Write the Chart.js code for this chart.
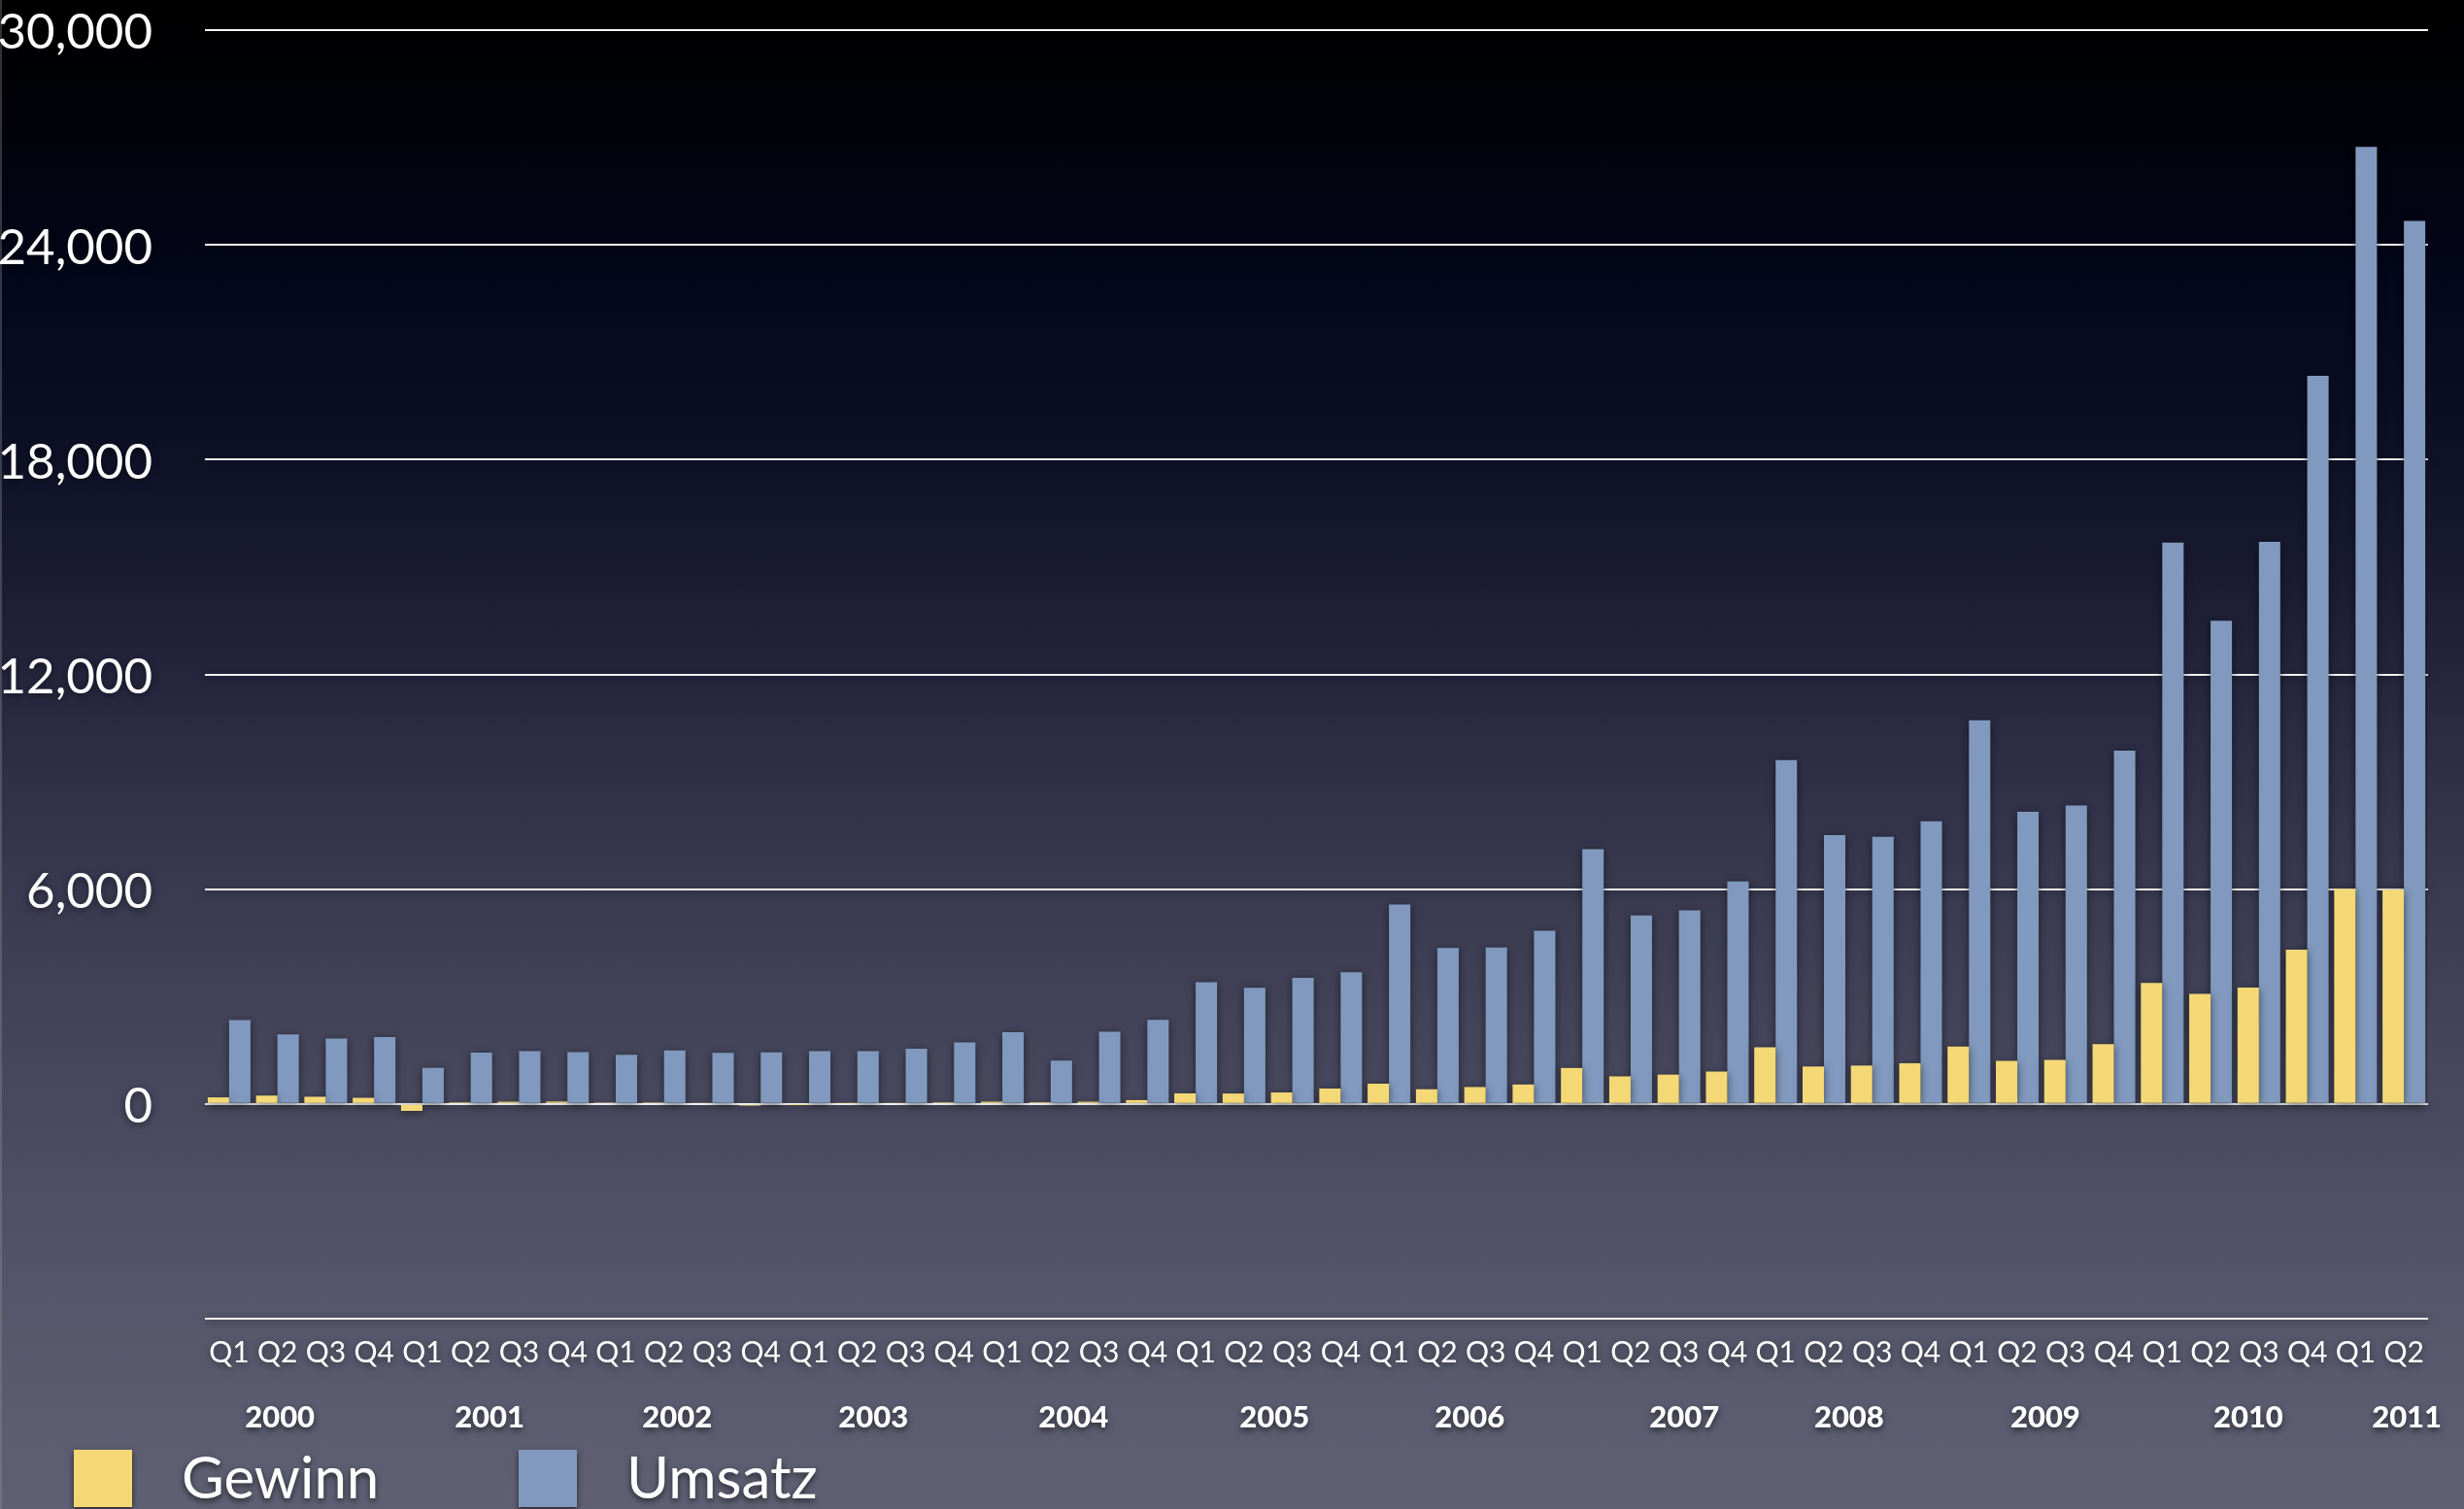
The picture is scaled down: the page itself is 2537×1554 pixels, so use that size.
<!DOCTYPE html>
<html>
<head>
<meta charset="utf-8">
<script src="https://cdn.jsdelivr.net/npm/chart.js@4/dist/chart.umd.min.js"></script>
<style>
  html, body { margin: 0; padding: 0; width: 2537px; height: 1554px; overflow: hidden; }
  body {
    position: relative;
    background: linear-gradient(to bottom,
      #000000 0%, #010208 8%, #04061a 18%, #0c0e24 28%, #1a1b32 38%,
      #2a2b43 48%, #383950 58%, #43445a 68%, #4d4e63 78%, #57586c 88%, #5f6073 100%);
  }
  #edge { position: absolute; left: 0; top: 0; width: 2px; height: 1554px; background: rgba(150,150,150,0.35); }
  canvas { position: absolute; left: 0; top: 0; }
</style>
</head>
<body>
<div id="edge"></div>
<canvas id="c" width="2537" height="1554"></canvas>
<script>
// ---- data (millions) ----
const quarters = [
  'Q1','Q2','Q3','Q4', 'Q1','Q2','Q3','Q4', 'Q1','Q2','Q3','Q4',
  'Q1','Q2','Q3','Q4', 'Q1','Q2','Q3','Q4', 'Q1','Q2','Q3','Q4',
  'Q1','Q2','Q3','Q4', 'Q1','Q2','Q3','Q4', 'Q1','Q2','Q3','Q4',
  'Q1','Q2','Q3','Q4', 'Q1','Q2','Q3','Q4', 'Q1','Q2'
];
const years = ['2000','2001','2002','2003','2004','2005','2006','2007','2008','2009','2010','2011'];
const gewinn = [
  183, 233, 200, 170,
  -195, 43, 61, 66,
  38, 40, 32, -45,
  -8, 14, 19, 44,
  63, 46, 61, 106,
  295, 290, 320, 430,
  565, 410, 472, 542,
  1004, 770, 818, 904,
  1581, 1045, 1072, 1136,
  1605, 1205, 1230, 1670,
  3378, 3074, 3253, 4308,
  6004, 5987
];
const umsatz = [
  2343, 1945, 1825, 1870,
  1007, 1431, 1475, 1450,
  1375, 1495, 1429, 1443,
  1472, 1475, 1545, 1715,
  2006, 1209, 2014, 2350,
  3400, 3243, 3520, 3678,
  5570, 4359, 4370, 4837,
  7115, 5264, 5410, 6217,
  9608, 7512, 7464, 7895,
  10720, 8163, 8337, 9870,
  15683, 13499, 15700, 20343,
  26741, 24667
];
const seriesNames = ['Gewinn', 'Umsatz'];
const yTicks = { min: -6000, max: 30000, step: 6000 };

// ---- layout / style (not data) ----
const FONT = 'Lato, "Open Sans", sans-serif';
const yearAnchor = [1.05, 5.39, 9.27, 13.33, 17.47, 21.63, 25.67, 30.11, 33.52, 37.58, 41.78, 45.06];
const legendX = [76, 534];

const shadowPlugin = {
  id: 'shadow',
  beforeDraw(chart) {
    const ctx = chart.ctx;
    ctx.shadowColor = 'rgba(0,0,0,0.55)';
    ctx.shadowBlur = 8;
    ctx.shadowOffsetX = 0;
    ctx.shadowOffsetY = 2;
  },
  afterDraw(chart) {
    const ctx = chart.ctx;
    const xs = chart.scales.x;
    const area = chart.chartArea;
    ctx.save();
    ctx.shadowColor = 'rgba(0,0,0,0.6)';
    ctx.shadowBlur = 6;
    ctx.shadowOffsetY = 3;
    // year labels
    ctx.fillStyle = '#ffffff';
    ctx.font = '900 31px ' + FONT;
    ctx.textAlign = 'center';
    ctx.textBaseline = 'alphabetic';
    years.forEach((y, i) => {
      ctx.fillText(y, xs.getPixelForValue(yearAnchor[i]), area.bottom + 112);
    });
    // legend
    ctx.textAlign = 'left';
    ctx.font = '60px ' + FONT;
    chart.data.datasets.forEach((ds, i) => {
      ctx.fillStyle = ds.backgroundColor;
      ctx.fillRect(legendX[i], area.bottom + 135, 60, 59);
      ctx.fillStyle = '#ffffff';
      ctx.fillText(ds.label, legendX[i] + 111, area.bottom + 185);
    });
    ctx.restore();
  }
};

new Chart(document.getElementById('c'), {
  type: 'bar',
  data: {
    labels: quarters,
    datasets: [
      { label: seriesNames[0], data: gewinn, backgroundColor: '#f4d875', borderWidth: 0,
        barPercentage: 1.0, categoryPercentage: 0.885 },
      { label: seriesNames[1], data: umsatz, backgroundColor: '#8199be', borderWidth: 0,
        barPercentage: 1.0, categoryPercentage: 0.885 }
    ]
  },
  options: {
    responsive: false,
    animation: false,
    devicePixelRatio: 1,
    layout: { padding: { top: 31, right: 37, left: 0, bottom: 0 } },
    plugins: { legend: { display: false }, tooltip: { enabled: false } },
    scales: {
      x: {
        grid: { display: false, drawTicks: false },
        border: { display: false },
        ticks: {
          color: '#ffffff', autoSkip: false, maxRotation: 0, minRotation: 0, padding: 20,
          font: { family: FONT, size: 30, lineHeight: 1.0 }
        },
        afterFit(s) { s.height = 196; }
      },
      y: {
        min: yTicks.min, max: yTicks.max,
        grid: { color: '#f4f4f4', lineWidth: 2, drawTicks: false },
        border: { display: false },
        ticks: {
          stepSize: yTicks.step, color: '#ffffff', padding: 54, labelOffset: 3,
          font: { family: FONT, size: 51, lineHeight: 1.0 },
          callback: (v) => v < 0 ? '' : v.toLocaleString('en-US')
        },
        afterFit(s) { s.width = 211; s.paddingTop = 20; s.paddingBottom = 0; }
      }
    }
  },
  plugins: [shadowPlugin]
});
</script>
</body>
</html>
